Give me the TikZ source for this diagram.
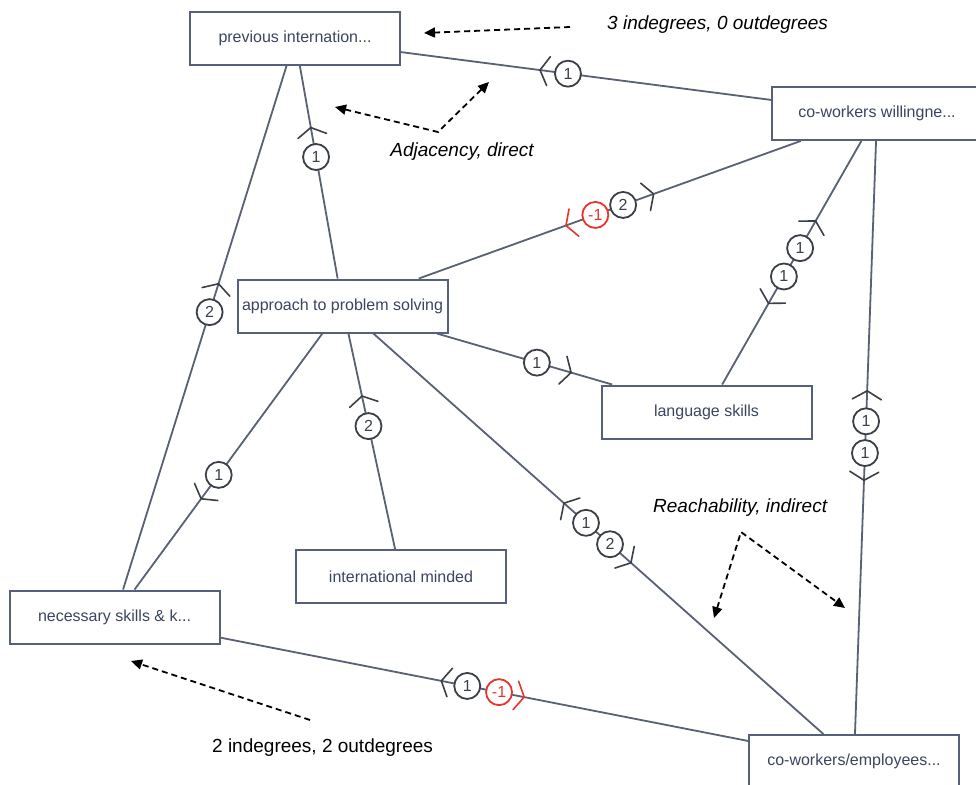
\documentclass[tikz,border=0pt]{standalone}
\usepackage{fontspec}
\setmainfont{Liberation Sans}
\usetikzlibrary{arrows.meta,decorations.markings,calc}

\definecolor{edgec}{HTML}{586273}
\definecolor{boxc}{HTML}{56607A}
\definecolor{labc}{HTML}{3C4560}
\definecolor{negc}{HTML}{E8342C}
\definecolor{ringc}{HTML}{3A3F48}

\tikzset{
  concept/.style={draw=boxc, line width=2pt, fill=white, minimum width=210pt,
    minimum height=53pt, inner sep=0pt, text=labc,
    font=\fontsize{16}{18}\selectfont},
  link/.style={draw=edgec, line width=1.8pt},
  weight/.style={circle, draw=ringc, line width=1.8pt, fill=white,
    minimum size=26pt, inner sep=0pt, text=ringc,
    font=\fontsize{16}{16}\selectfont},
  negweight/.style={weight, draw=negc, text=negc},
  % open chevron on the link, its point aimed along (fwd) or against (bwd) the path
  fwd/.style={postaction={decorate, decoration={markings, mark=at position #1 with
    {\draw[ringc, line width=1.6pt, line cap=round] (-8.5,-14.5) -- (0,0) -- (-8.5,14.5);}}}},
  bwd/.style={postaction={decorate, decoration={markings, mark=at position #1 with
    {\draw[ringc, line width=1.6pt, line cap=round] (8.5,-14.5) -- (0,0) -- (8.5,14.5);}}}},
  fwdneg/.style={postaction={decorate, decoration={markings, mark=at position #1 with
    {\draw[negc, line width=1.6pt, line cap=round] (-8.5,-14.5) -- (0,0) -- (-8.5,14.5);}}}},
  bwdneg/.style={postaction={decorate, decoration={markings, mark=at position #1 with
    {\draw[negc, line width=1.6pt, line cap=round] (8.5,-14.5) -- (0,0) -- (8.5,14.5);}}}},
  note/.style={text=black, inner sep=0pt, font=\fontsize{19}{19}\selectfont\itshape},
  plainnote/.style={text=black, inner sep=0pt, font=\fontsize{19}{19}\selectfont},
  pointer/.style={draw=black, line width=1.8pt, dash pattern=on 6pt off 4pt,
    -{Triangle[length=11pt,width=10pt]}},
  twopointer/.style={draw=black, line width=1.8pt, dash pattern=on 6pt off 4pt,
    {Triangle[length=11pt,width=10pt]}-{Triangle[length=11pt,width=10pt]}},
}

\begin{document}
\begin{tikzpicture}[x=1pt, y=-1pt]
  \useasboundingbox (0,0) rectangle (976,784);
  \clip (0,0) rectangle (976,784);
  \fill[white] (0,0) rectangle (976,784);

  % concepts
  \node[concept] (prev) at (295,38.5)   {previous internation...};
  \node[concept] (will) at (877,113.5)  {co-workers willingne...};
  \node[concept] (appr) at (342.5,306)  {approach to problem solving};
  \node[concept] (lang) at (706.5,412)  {language skills};
  \node[concept] (intl) at (401,576.5)  {international minded};
  \node[concept] (need) at (114.5,617)  {necessary skills \& k...};
  \node[concept] (empl) at (854,761.5)  {co-workers/employees...};

  % links
  \draw[link] (prev) -- (will);
  \draw[link] (prev) -- (appr);
  \draw[link] (prev) -- (need);
  \draw[link] (will) -- (appr);
  \draw[link] (will) -- (lang);
  \draw[link] (will) -- (empl);
  \draw[link] (appr) -- (lang);
  \draw[link] (appr) -- (intl);
  \draw[link] (appr) -- (need);
  \draw[link] (appr) -- (empl);
  \draw[link] (need) -- (empl);

  % direction marks and weights
  \path[bwd=0.421] (prev.center) -- node[weight, pos=0.469] {1} (will.center);
  \path[bwd=0.333] (prev.center) -- node[weight, pos=0.443] {1} (appr.center);
  \path[bwd=0.424] (prev.center) -- node[weight, pos=0.473] {2} (need.center);
  \path[bwd=0.418, fwdneg=0.582] (will.center)
    -- node[weight, pos=0.475] {2} node[negweight, pos=0.527] {-1} (appr.center);
  \path[bwd=0.360, fwd=0.636] (will.center)
    -- node[weight, pos=0.451] {1} node[weight, pos=0.546] {1} (lang.center);
  \path[bwd=0.428, fwd=0.566] (will.center)
    -- node[weight, pos=0.475] {1} node[weight, pos=0.524] {1} (empl.center);
  \path[fwd=0.628] (appr.center) -- node[weight, pos=0.534] {1} (lang.center);
  \path[bwd=0.333] (appr.center) -- node[weight, pos=0.444] {2} (intl.center);
  \path[fwd=0.620] (appr.center) -- node[weight, pos=0.543] {1} (need.center);
  \path[bwd=0.433, fwd=0.564] (appr.center)
    -- node[weight, pos=0.476] {1} node[weight, pos=0.523] {2} (empl.center);
  \path[bwd=0.442, fwdneg=0.554] (need.center)
    -- node[weight, pos=0.477] {1} node[negweight, pos=0.520] {-1} (empl.center);

  % annotations
  \node[note, anchor=west] (indeg) at (607,25) {3 indegrees, 0 outdegrees};
  \coordinate (indegtail) at (570,27);
  \coordinate (indegtip) at (424,33);
  \draw[pointer] (indegtail) -- (indegtip);

  \node[note] (adj) at (462,152) {Adjacency, direct};
  \coordinate (adjv) at (438,132);
  \coordinate (adja) at (335,107);
  \coordinate (adjb) at (489,82);
  \draw[twopointer] (adja) -- (adjv) -- (adjb);

  \node[note, anchor=west] (reach) at (653,508) {Reachability, indirect};
  \coordinate (reachv) at (741,532);
  \coordinate (reacha) at (714,618);
  \coordinate (reachb) at (845,608);
  \draw[twopointer] (reacha) -- (reachv) -- (reachb);

  \node[plainnote, anchor=west] (outdeg) at (212,748) {2 indegrees, 2 outdegrees};
  \coordinate (outdegtail) at (310,720);
  \coordinate (outdegtip) at (131,661);
  \draw[pointer] (outdegtail) -- (outdegtip);
\end{tikzpicture}
\end{document}
